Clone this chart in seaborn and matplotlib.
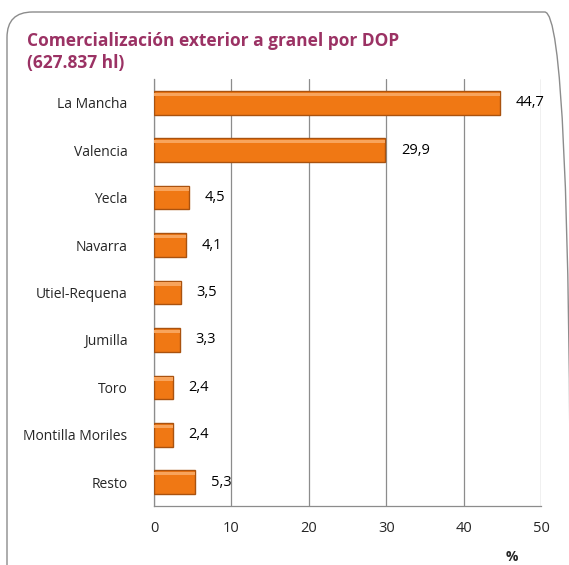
import matplotlib
matplotlib.use("Agg")
import matplotlib.pyplot as plt
import seaborn as sns
import pandas as pd
from matplotlib.patches import FancyBboxPatch

# === data ===
categorias = ["La Mancha", "Valencia", "Yecla", "Navarra", "Utiel-Requena",
              "Jumilla", "Toro", "Montilla Moriles", "Resto"]
porcentajes = [44.7, 29.9, 4.5, 4.1, 3.5, 3.3, 2.4, 2.4, 5.3]
x_ticks = [0, 10, 20, 30, 40, 50]

df = pd.DataFrame({"DOP": categorias, "pct": porcentajes})

sns.set_style("white")
plt.rcParams["font.family"] = ["Open Sans", "DejaVu Sans"]

fig = plt.figure(figsize=(5.69, 5.65), dpi=100)
ax = fig.add_axes([154 / 569, 1 - 506 / 565, 387 / 569, 427 / 565])

# rounded frame around the whole chart
frame = FancyBboxPatch((7 / 569, -0.05), 0.99, 1 - 12 / 565 + 0.05,
                       boxstyle="round,pad=0,rounding_size=0.045",
                       transform=fig.transFigure, fill=False,
                       edgecolor="#8c8c8c", linewidth=1.0, zorder=0)
fig.patches.append(frame)

sns.barplot(data=df, x="pct", y="DOP", orient="h", ax=ax, width=0.5,
            color="#F07814", edgecolor="#A9520F", linewidth=1.0,
            saturation=1, zorder=3)

# light strip on top of each bar for the bevel look
for i, v in enumerate(porcentajes):
    ax.barh(i - 0.18, v, height=0.07, color="#F8A45C", linewidth=0, zorder=4)
    ax.text(v + 2.0, i, f"{v:.1f}".replace(".", ","), va="center",
            ha="left", fontsize=10.5, color="black")

ax.set_xlim(0, 50)
ax.set_ylim(8.5, -0.5)
ax.set_xticks(x_ticks)
ax.set_xticklabels([str(t) for t in x_ticks], fontsize=10.5)
ax.set_yticks(range(len(categorias)))
ax.set_yticklabels(categorias, fontsize=10)
ax.set_yticks([i + 0.5 for i in range(-1, len(categorias))], minor=True)
ax.tick_params(axis="y", which="major", length=0, pad=19)
ax.tick_params(axis="y", which="minor", length=4, color="#8c8c8c", direction="out")
ax.tick_params(axis="x", length=5, color="#8c8c8c", direction="out", pad=6)
ax.set_xlabel("")
ax.set_ylabel("")

ax.grid(axis="x", color="#8c8c8c", linewidth=0.9, zorder=0)
ax.set_axisbelow(True)
for s in ["top", "right"]:
    ax.spines[s].set_visible(False)
for s in ["left", "bottom"]:
    ax.spines[s].set_color("#8c8c8c")
    ax.spines[s].set_linewidth(0.9)

fig.text(27 / 569, 1 - 52 / 565, "Comercialización exterior a granel por DOP\n(627.837 hl)",
         fontsize=12.5, fontweight="bold", color="#9B3264", va="center", ha="left",
         linespacing=1.3)
fig.text(512 / 569, 1 - 557 / 565, "%", fontsize=10, fontweight="bold",
         ha="center", va="center")

fig.savefig("out.png", dpi=100)
